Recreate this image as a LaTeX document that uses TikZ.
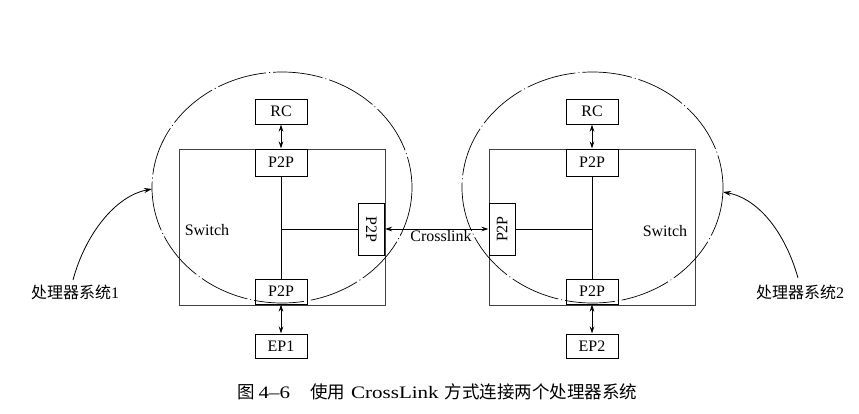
\documentclass[tikz,border=0pt]{standalone}
\usepackage{fontspec}
\setmainfont{Liberation Serif}
\newfontfamily\cjk{Noto Sans CJK SC}
\newfontfamily\capfont[FakeStretch=1.2]{Liberation Serif}
\usetikzlibrary{arrows.meta}
\begin{document}
\begin{tikzpicture}[x=1bp,y=-1bp,
  every node/.style={font=\fontsize{16bp}{19bp}\selectfont, inner sep=0pt},
  box/.style={draw, line width=1bp, minimum width=52bp, minimum height=25bp},
  vbox/.style={draw, line width=1bp, minimum width=26bp, minimum height=52bp},
  swrect/.style={draw=black!75, line width=1bp},
  sysell/.style={draw, line width=0.7bp, dash pattern=on 50bp off 3bp on 1bp off 3bp},
  link/.style={line width=0.8bp},
  dbl/.style={line width=0.8bp, {Stealth[length=7bp,width=4.5bp]}-{Stealth[length=7bp,width=4.5bp]}},
  pointer/.style={line width=0.8bp, -{Stealth[length=8bp,width=5bp]}}
]
\useasboundingbox (0,0) rectangle (859,413);

% left system
\draw[swrect] (179,149) rectangle (385,305);
\node[box] (RC1) at (281,111.5) {RC};
\node[box, minimum height=27bp] (T1) at (281,162.5) {P2P};
\node[box] (B1) at (281,291.5) {P2P};
\node[box, minimum height=24bp] (EP1) at (281,346) {EP1};
\node[vbox] (S1) at (371.5,229) {\rotatebox{-90}{P2P}};
\coordinate (J1) at (T1.south |- S1.west);
\draw[link] (T1.south) -- (B1.north);
\draw[link] (J1) -- (S1.west);
\draw[dbl] (RC1.south) -- (T1.north);
\draw[dbl] (B1.south) -- (EP1.north);
\node[anchor=base] (SW1) at (207,235) {Switch};
\draw[sysell] (282,187.5) ellipse [x radius=130, y radius=115.5];

% right system
\draw[swrect] (489,149) rectangle (695,305);
\node[box] (RC2) at (592,111.5) {RC};
\node[box, minimum height=27bp] (T2) at (592,162.5) {P2P};
\node[box] (B2) at (592,291.5) {P2P};
\node[box, minimum height=24bp] (EP2) at (592,346) {EP2};
\node[vbox] (S2) at (502,229) {\rotatebox{90}{P2P}};
\coordinate (J2) at (T2.south |- S2.east);
\draw[link] (T2.south) -- (B2.north);
\draw[link] (J2) -- (S2.east);
\draw[dbl] (RC2.south) -- (T2.north);
\draw[dbl] (B2.south) -- (EP2.north);
\node[anchor=base] (SW2) at (665,236) {Switch};
\draw[sysell] (592.5,187.5) ellipse [x radius=130.5, y radius=115.5];

% crosslink
\draw[dbl] (S1.east) -- (S2.west);
\node[anchor=base] (CL) at (441,241.5) {Crosslink};

% labels
\node[anchor=base] (L1) at (75,298) {{\cjk 处理器系统}1};
\node[anchor=base] (L2) at (800,298) {{\cjk 处理器系统}2};
\coordinate (a1) at (73,280);
\coordinate (e1) at (152,189);
\coordinate (a2) at (798,278);
\coordinate (e2) at (723,192);
\draw[pointer] (a1) .. controls (85,235) and (115,196) .. (e1);
\draw[pointer] (a2) .. controls (786,235) and (760,199) .. (e2);

% caption
\node[anchor=base west, font=\fontsize{17.5bp}{20bp}\selectfont] (CAP) at (237,398)
  {{\cjk 图}\hspace{4bp}{\capfont 4–6}\hspace{20bp}{\cjk 使用}\hspace{6bp}{\capfont CrossLink}\hspace{6bp}{\cjk 方式连接两个处理器系统}};
\end{tikzpicture}
\end{document}
